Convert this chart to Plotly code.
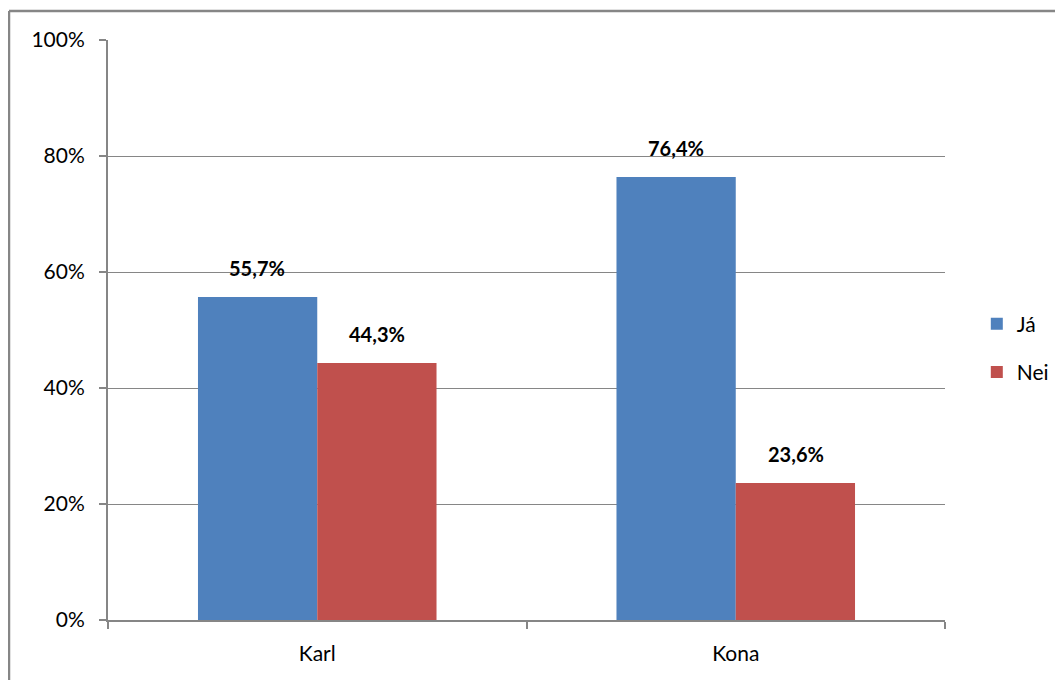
import plotly.graph_objects as go

# -------------------
# Data
# -------------------
categories = ["Karl", "Kona"]
series_names = ["Já", "Nei"]
ja_values = [55.7, 76.4]
nei_values = [44.3, 23.6]

colors = {"Já": "#4F81BD", "Nei": "#C0504D"}
FONT = "Lato, Carlito, Calibri, sans-serif"

# page body adds an 8px offset, so layout is shifted back by that much
W, H = 1063, 680
L, T = 100, 32
pw, ph = 837, 580
R, B = W - L - pw, H - T - ph

fig = go.Figure()

annotations = []
for i, (name, vals) in enumerate(zip(series_names, [ja_values, nei_values])):
    fig.add_trace(
        go.Bar(
            x=categories,
            y=vals,
            name=name,
            marker=dict(color=colors[name], line=dict(width=0)),
            legendgroup=name,
            offsetgroup=str(i),
        )
    )
    for cat, v in zip(categories, vals):
        annotations.append(dict(
            x=cat, y=v, xref="x", yref="y",
            text=f"<b>{v:.1f}%</b>".replace(".", ","),
            showarrow=False,
            xanchor="center", yanchor="bottom",
            xshift=-60 if i == 0 else 60,
            yshift=15,
            font=dict(size=20, color="black", family=FONT),
        ))

# outer chart border (Excel style) - only top and left edges are in view
bx0 = (1 - L) / pw
bx1 = (W + 20 - L) / pw
by0 = -(H + 20 - T - ph) / ph
by1 = (ph + T - 3) / ph
border = dict(color="#868686", width=2.5)
fig.add_shape(type="line", xref="paper", yref="paper",
              x0=bx0, x1=bx1, y0=by1, y1=by1, line=border, layer="below")
fig.add_shape(type="line", xref="paper", yref="paper",
              x0=bx0, x1=bx0, y0=by0, y1=by1, line=border, layer="below")

fig.update_layout(
    width=W,
    height=H,
    margin=dict(l=L, r=R, t=T, b=B),
    plot_bgcolor="white",
    paper_bgcolor="white",
    barmode="group",
    bargap=0.43,
    bargroupgap=0,
    annotations=annotations,
    font=dict(family=FONT, size=21, color="black"),
    legend=dict(
        x=1.038, y=0.469, xanchor="left", yanchor="middle",
        font=dict(size=21),
        tracegroupgap=18,
        itemwidth=30,
    ),
)

fig.update_yaxes(
    range=[0, 100],
    dtick=20,
    ticksuffix="%",
    showgrid=True,
    gridcolor="#868686",
    gridwidth=1.3,
    showline=True,
    linecolor="#868686",
    linewidth=2,
    ticks="outside",
    ticklen=7,
    tickcolor="#868686",
    tickwidth=2,
    zeroline=False,
    ticklabelstandoff=10,
    tickfont=dict(size=21),
)

fig.update_xaxes(
    showline=True,
    linecolor="#868686",
    linewidth=2,
    ticks="outside",
    tickson="boundaries",
    ticklen=7,
    tickcolor="#868686",
    tickwidth=2,
    showgrid=False,
    ticklabelstandoff=14,
    tickfont=dict(size=21),
)

fig.write_html("out.html")
